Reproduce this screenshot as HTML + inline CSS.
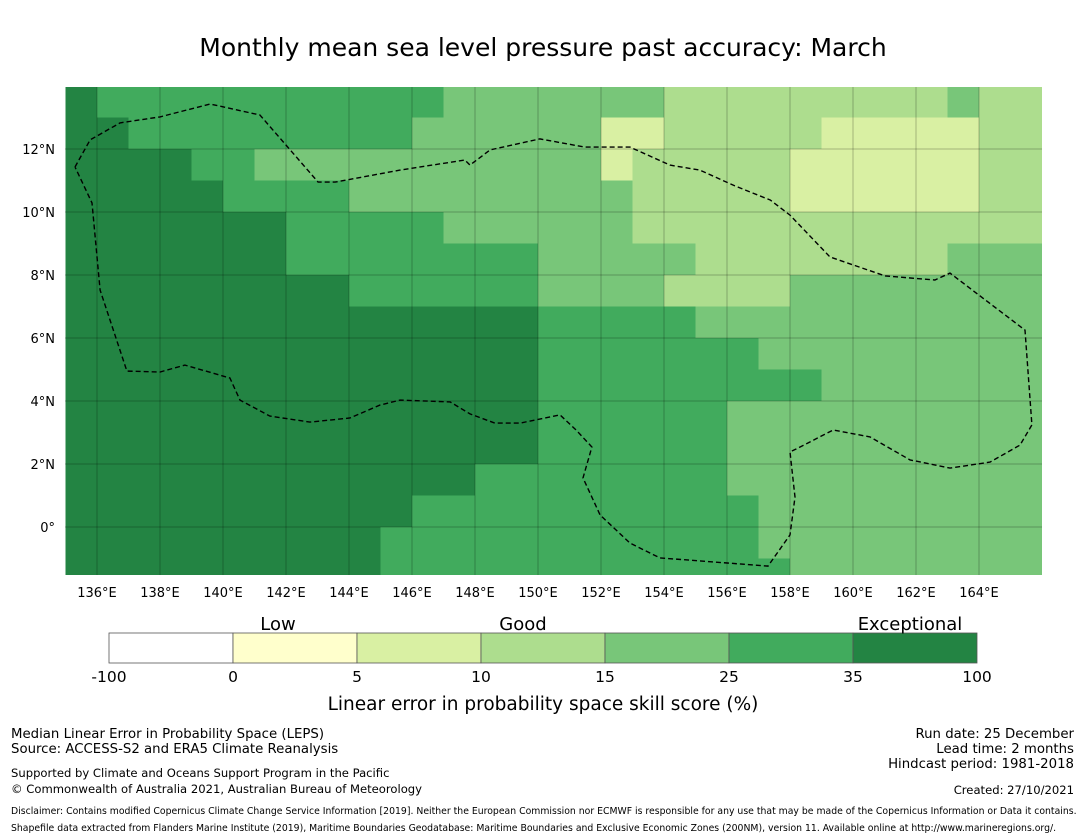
<!DOCTYPE html>
<html><head><meta charset="utf-8">
<style>
html,body{margin:0;padding:0;background:#fff;}
svg{display:block;font-family:"DejaVu Sans","Liberation Sans",sans-serif;}
</style></head>
<body>
<svg id="fig" width="1085" height="839" viewBox="0 0 1085 839" xmlns="http://www.w3.org/2000/svg">
<text x="543" y="56" text-anchor="middle" font-size="25" fill="#000">Monthly mean sea level pressure past accuracy: March</text>
<g id="map"></g>
<g id="grid"></g>
<g id="eez"></g>
<g id="axes"></g>
<g id="cbar"></g>
<text x="278" y="630" text-anchor="middle" font-size="18">Low</text>
<text x="523" y="630" text-anchor="middle" font-size="18">Good</text>
<text x="910" y="630" text-anchor="middle" font-size="18">Exceptional</text>
<text x="543" y="710" text-anchor="middle" font-size="18.5">Linear error in probability space skill score (%)</text>
<g font-size="13.3">
<text x="11" y="738">Median Linear Error in Probability Space (LEPS)</text>
<text x="11" y="753">Source: ACCESS-S2 and ERA5 Climate Reanalysis</text>
</g>
<g font-size="11.6">
<text x="11" y="777">Supported by Climate and Oceans Support Program in the Pacific</text>
<text x="11" y="793">© Commonwealth of Australia 2021, Australian Bureau of Meteorology</text>
</g>
<g font-size="13.3" text-anchor="end">
<text x="1074" y="738">Run date: 25 December</text>
<text x="1074" y="753">Lead time: 2 months</text>
<text x="1074" y="768">Hindcast period: 1981-2018</text>
<text x="1074" y="794" font-size="11.6">Created: 27/10/2021</text>
</g>
<g font-size="9.3">
<text x="11" y="814">Disclaimer: Contains modified Copernicus Climate Change Service Information [2019]. Neither the European Commission nor ECMWF is responsible for any use that may be made of the Copernicus Information or Data it contains.</text>
<text x="11" y="831">Shapefile data extracted from Flanders Marine Institute (2019), Maritime Boundaries Geodatabase: Maritime Boundaries and Exclusive Economic Zones (200NM), version 11. Available online at http://www.marineregions.org/.</text>
</g>
</svg>
<script>
// ---- data ----
const lonStart = 135, latTop = 14;
const levelColors = ["#ffffff","#ffffcc","#d9f0a3","#addd8e","#78c679","#41ab5d","#238443"];
const levelBounds = ["-100","0","5","10","15","25","35","100"];
// rows from 14N downward, 1-degree cells; last row is partial (-1 to -1.5)
const gridRows = [
"6555555555554444444333333333433",
"6655555555544444422333332222233",
"6666554444444444423333322222233",
"6666655554444444443333322222233",
"6666666555554444443333333333333",
"6666666555555554444433333333444",
"6666666665555554444333344444444",
"6666666666666665555544444444444",
"6666666666666665555555444444444",
"6666666666666665555555554444444",
"6666666666666665555554444444444",
"6666666666666665555554444444444",
"6666666666666555555554444444444",
"6666666666655555555555444444444",
"6666666666555555555555444444444",
"6666666666555555555555544444444"
];
const boundaryLon = [135.30,135.78,136.73,138.0,139.59,141.17,143.02,143.56,145.62,147.68,147.84,148.48,150.06,151.49,152.92,154.19,155.14,156.25,157.37,158.0,159.27,161.02,162.6,163.08,165.46,165.68,165.3,164.35,163.08,161.81,160.54,159.37,158.32,158.0,158.16,158.0,157.3,153.87,152.92,151.97,151.43,151.71,151.21,150.70,149.43,148.63,147.84,147.21,145.62,144.98,144.03,142.76,141.49,140.54,140.22,138.79,138.0,136.95,136.1,135.84,135.30];
const boundaryLat = [11.43,12.29,12.83,13.02,13.43,13.08,10.95,10.95,11.33,11.65,11.49,11.97,12.32,12.06,12.06,11.49,11.33,10.83,10.38,9.90,8.57,7.97,7.84,8.06,6.25,3.24,2.60,2.06,1.87,2.13,2.86,3.08,2.54,2.38,0.95,-0.25,-1.24,-0.98,-0.51,0.38,1.56,2.54,3.08,3.56,3.30,3.30,3.59,3.97,4.03,3.87,3.46,3.33,3.52,4.03,4.73,5.14,4.92,4.95,7.52,10.29,11.43];
const lonTicks = [136,138,140,142,144,146,148,150,152,154,156,158,160,162,164];
const latTicks = [0,2,4,6,8,10,12];

// ---- axes ----
const X0=65, X1=1042, Y0=87, Y1=575, PX=31.5;
const xs = lon => 97 + (lon-136)*PX;
const ys = lat => 527 - lat*PX;
const NS="http://www.w3.org/2000/svg";
function mk(tag, attrs, parent){const e=document.createElementNS(NS,tag);for(const k in attrs)e.setAttribute(k,attrs[k]);parent.appendChild(e);return e;}

const map=document.getElementById('map');
const clip=mk('clipPath',{id:'mc'},mk('defs',{},document.getElementById('fig')));
mk('rect',{x:X0,y:Y0,width:X1-X0,height:Y1-Y0},clip);
map.setAttribute('clip-path','url(#mc)');
gridRows.forEach((row,j)=>{
  for(let i=0;i<row.length;i++){
    const lv=+row[i];
    const x=xs(lonStart+i), y=ys(latTop-j);
    const r=mk('rect',{x:x,y:y,width:PX+0.6,height:PX+0.6,fill:levelColors[lv]},map);
    
    
  }
});

const grid=document.getElementById('grid');
lonTicks.forEach(l=>{
  const ln=mk('line',{x1:xs(l),x2:xs(l),y1:Y0,y2:Y1,stroke:'#000','stroke-opacity':0.25,'stroke-width':1},grid);
  
  
});
latTicks.forEach(l=>{
  const ln=mk('line',{x1:X0,x2:X1,y1:ys(l),y2:ys(l),stroke:'#000','stroke-opacity':0.25,'stroke-width':1},grid);
  
  
});

const eez=document.getElementById('eez');
const pts=boundaryLon.map((l,i)=>xs(l).toFixed(1)+','+ys(boundaryLat[i]).toFixed(1)).join(' ');
const pl=mk('polyline',{points:pts,fill:'none',stroke:'#000','stroke-width':1.4,'stroke-dasharray':'5 3'},eez);



const axes=document.getElementById('axes');
lonTicks.forEach(l=>{
  const t=mk('text',{x:xs(l),y:597,'text-anchor':'middle','font-size':13},axes);
  t.textContent=l+'°E';
  
  
});
latTicks.forEach(l=>{
  const t=mk('text',{x:55,y:ys(l)+5,'text-anchor':'end','font-size':13},axes);
  t.textContent=l===0?'0°':l+'°N';
  
  
});

const cb=document.getElementById('cbar');
const CBX=109, CBW=124, CBY=633, CBH=30;
levelColors.forEach((c,i)=>{
  const r=mk('rect',{x:CBX+i*CBW,y:CBY,width:CBW,height:CBH,fill:c,stroke:'#555','stroke-width':0.8},cb);
  
  
});
levelBounds.forEach((b,i)=>{
  const t=mk('text',{x:CBX+i*CBW,y:682,'text-anchor':'middle','font-size':15.5},cb);
  t.textContent=b;
  
  
});
</script>
</body></html>
